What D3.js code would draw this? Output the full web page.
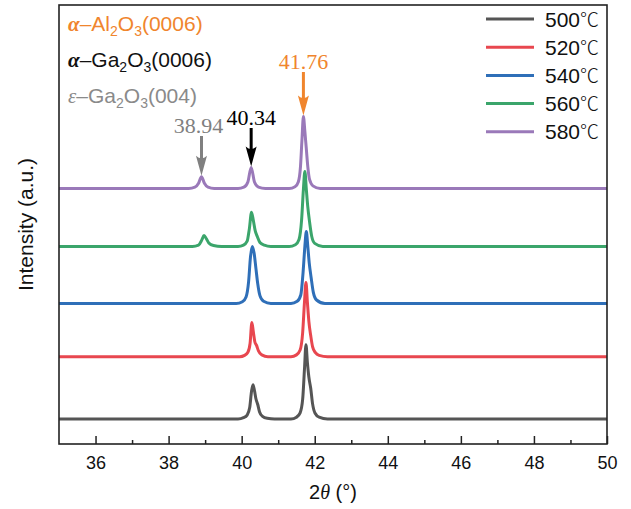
<!DOCTYPE html>
<html><head><meta charset="utf-8">
<script src="https://cdn.jsdelivr.net/npm/d3@7/dist/d3.min.js"></script>
<style>body{margin:0;background:#fff}</style>
</head><body><svg id="c" width="631" height="509" style="font-family:'Liberation Sans',Arial,sans-serif"></svg>
<script>
const temps = ["500", "520", "540", "560", "580"];
const colors = ["#555555", "#e8474f", "#2f6fb8", "#3ba56b", "#9a79b9"];
const offsets = [5.7, 19.9, 32.0, 45.0, 58.2];
const xTicks = [36, 38, 40, 42, 44, 46, 48, 50];
const minorTicks = [37, 39, 41, 43, 45, 47, 49];
const s500 = [[35,0],[39.9,0],[40.05,0.3],[40.15,0.9],[40.22,2.6],[40.27,6.3],[40.31,7.8],[40.35,6.5],[40.39,4.6],[40.44,3.3],[40.49,1.6],[40.57,0.6],[40.7,0.15],[40.9,0],[41.35,0],[41.5,0.4],[41.6,1.4],[41.67,4.5],[41.72,11.5],[41.76,16.9],[41.8,12.8],[41.84,9.5],[41.89,7],[41.94,3.5],[42.01,1.3],[42.12,0.4],[42.35,0],[50,0]];
const s520 = [[35,0],[39.95,0],[40.08,0.3],[40.17,1.0],[40.23,3],[40.28,7.8],[40.32,5.6],[40.36,3.4],[40.41,2.5],[40.46,1.3],[40.55,0.4],[40.72,0],[41.35,0],[41.5,0.4],[41.6,1.5],[41.67,5.5],[41.72,12.5],[41.76,16.9],[41.8,12.3],[41.84,8],[41.89,4.8],[41.94,2.3],[42.02,0.9],[42.12,0.3],[42.35,0],[50,0]];
const s540 = [[35,0],[39.85,0],[40.02,0.4],[40.12,1.5],[40.19,5],[40.24,10.5],[40.29,13],[40.34,11.5],[40.39,8],[40.44,4.5],[40.5,1.8],[40.6,0.5],[40.8,0],[41.35,0],[41.52,0.5],[41.62,2],[41.68,7],[41.73,13],[41.77,16.4],[41.81,13],[41.85,9.2],[41.9,6],[41.96,2.6],[42.05,0.8],[42.28,0],[50,0]];
const s560 = [[35,0],[38.65,0],[38.82,0.3],[38.91,1.5],[38.97,2.5],[39.03,1.8],[39.1,0.8],[39.23,0.2],[39.45,0],[39.9,0],[40.05,0.3],[40.15,1.2],[40.21,4],[40.27,7.8],[40.32,5.9],[40.37,3.6],[40.43,2.2],[40.5,0.9],[40.62,0.3],[40.8,0],[41.3,0],[41.47,0.4],[41.57,1.6],[41.64,6],[41.69,13],[41.73,17.1],[41.77,13],[41.81,9],[41.86,5.5],[41.92,2.2],[42.0,0.7],[42.22,0],[50,0]];
const s580 = [[35,0],[38.55,0],[38.72,0.3],[38.82,1.2],[38.9,2.7],[38.98,1.2],[39.08,0.3],[39.25,0],[39.9,0],[40.06,0.3],[40.17,1.5],[40.26,4.8],[40.35,1.5],[40.46,0.3],[40.65,0],[41.3,0],[41.46,0.4],[41.55,1.5],[41.61,5],[41.65,11],[41.69,16.4],[41.73,13],[41.77,9],[41.81,5],[41.86,2],[41.95,0.6],[42.15,0],[50,0]];
const series = [s500, s520, s540, s560, s580];
const peakLabels = ["38.94", "40.34", "41.76"];
const peakAt = [38.9, 40.26, 41.69];
const peakColors = ["#808080", "#000000", "#f0852d"];

const svg = d3.select("#c");
const L = 59, R = 607, T = 5, B = 444;
const x = d3.scaleLinear().domain([35, 50]).range([L, R]);
const y = d3.scaleLinear().domain([0, 100]).range([B, T]);
const SANS = "'Liberation Sans', Arial, sans-serif";
const SERIF = "'Liberation Serif', 'Times New Roman', serif";

svg.append("clipPath").attr("id", "clip").append("rect")
  .attr("x", L).attr("y", T).attr("width", R - L).attr("height", B - T);

const line = d3.line().x(d => x(d[0])).curve(d3.curveMonotoneX);
series.forEach((s, i) => {
  svg.append("path")
    .attr("clip-path", "url(#clip)")
    .attr("d", line.y(d => y(d[1] + offsets[i]))(s))
    .attr("fill", "none").attr("stroke", colors[i])
    .attr("stroke-width", 3).attr("stroke-linejoin", "round");
});

// frame
svg.append("rect").attr("x", L).attr("y", T).attr("width", R - L).attr("height", B - T)
  .attr("fill", "none").attr("stroke", "#222").attr("stroke-width", 1.6);

// bottom axis
const ax = svg.append("g").attr("transform", `translate(0,${B})`)
  .call(d3.axisBottom(x).tickValues(xTicks).tickSize(-8).tickPadding(12).tickFormat(d3.format("d")));
ax.select(".domain").remove();
ax.selectAll("line").attr("stroke", "#222").attr("stroke-width", 1.5);
ax.selectAll("text").style("font-size", "18px").attr("fill", "#111").style("font-family", SANS);
const axm = svg.append("g").attr("transform", `translate(0,${B})`)
  .call(d3.axisBottom(x).tickValues(minorTicks).tickSize(-4).tickFormat(""));
axm.select(".domain").remove();
axm.selectAll("line").attr("stroke", "#222").attr("stroke-width", 1.5);

// axis titles
const xl = svg.append("text").attr("x", (L + R) / 2).attr("y", 499).attr("text-anchor", "middle")
  .style("font-size", "20px").style("font-family", SANS).attr("fill", "#111");
xl.append("tspan").text("2");
xl.append("tspan").style("font-style", "italic").style("font-family", SERIF).text("θ");
xl.append("tspan").text(" (°)");
svg.append("text").attr("transform", `translate(33,${(T + B) / 2}) rotate(-90)`)
  .attr("text-anchor", "middle").style("font-size", "21px").style("font-family", SANS)
  .attr("fill", "#111").text("Intensity (a.u.)");

// legend
temps.forEach((t, i) => {
  const ly = 19 + 28.2 * i;
  svg.append("line").attr("x1", 486).attr("x2", 534).attr("y1", ly).attr("y2", ly)
    .attr("stroke", colors[i]).attr("stroke-width", 3);
  const tx = svg.append("text").attr("x", 545).attr("y", ly + 7.5)
    .style("font-size", "21px").style("font-family", SANS).attr("fill", "#111");
  tx.append("tspan").text(t);
  tx.append("tspan").style("font-family", "'Noto Sans CJK SC', sans-serif").style("font-weight", 300)
    .style("font-size", "19px").text("℃");
});

// phase labels
const phases = [
  {g: "α", name: "Al", rest: "(0006)", col: "#f0852d", yy: 31, bold: true},
  {g: "α", name: "Ga", rest: "(0006)", col: "#111111", yy: 67, bold: true},
  {g: "ε", name: "Ga", rest: "(004)", col: "#8a8a8a", yy: 103, bold: false}
];
phases.forEach(p => {
  const t = svg.append("text").attr("x", 68).attr("y", p.yy)
    .style("font-size", "21px").style("font-family", SANS).attr("fill", p.col);
  t.append("tspan").style("font-family", SERIF).style("font-style", "italic")
    .style("font-weight", p.bold ? "bold" : "normal").text(p.g);
  t.append("tspan").text("–" + p.name);
  t.append("tspan").style("font-size", "14px").attr("dy", 5).text("2");
  t.append("tspan").attr("dy", -5).text("O");
  t.append("tspan").style("font-size", "14px").attr("dy", 5).text("3");
  t.append("tspan").attr("dy", -5).text(p.rest);
});

// peak arrows
const labelY = [133, 125, 69];
peakAt.forEach((px, i) => {
  const pt = s580.find(d => Math.abs(d[0] - px) < 1e-6);
  const xx = x(px), tipY = y(pt[1] + offsets[4]) - 1;
  svg.append("text").attr("x", xx - (i === 0 ? 3 : 0)).attr("y", labelY[i]).attr("text-anchor", "middle")
    .style("font-family", SERIF).style("font-size", "22px")
    .attr("fill", peakColors[i]).text(peakLabels[i]);
  const top = labelY[i] + 3;
  svg.append("line").attr("x1", xx).attr("x2", xx).attr("y1", top).attr("y2", tipY - 14)
    .attr("stroke", peakColors[i]).attr("stroke-width", 3);
  svg.append("path")
    .attr("d", `M${xx - 5.5},${tipY - 20} Q${xx},${tipY - 15} ${xx + 5.5},${tipY - 20} L${xx},${tipY} Z`)
    .attr("fill", peakColors[i]);
});
</script></body></html>
